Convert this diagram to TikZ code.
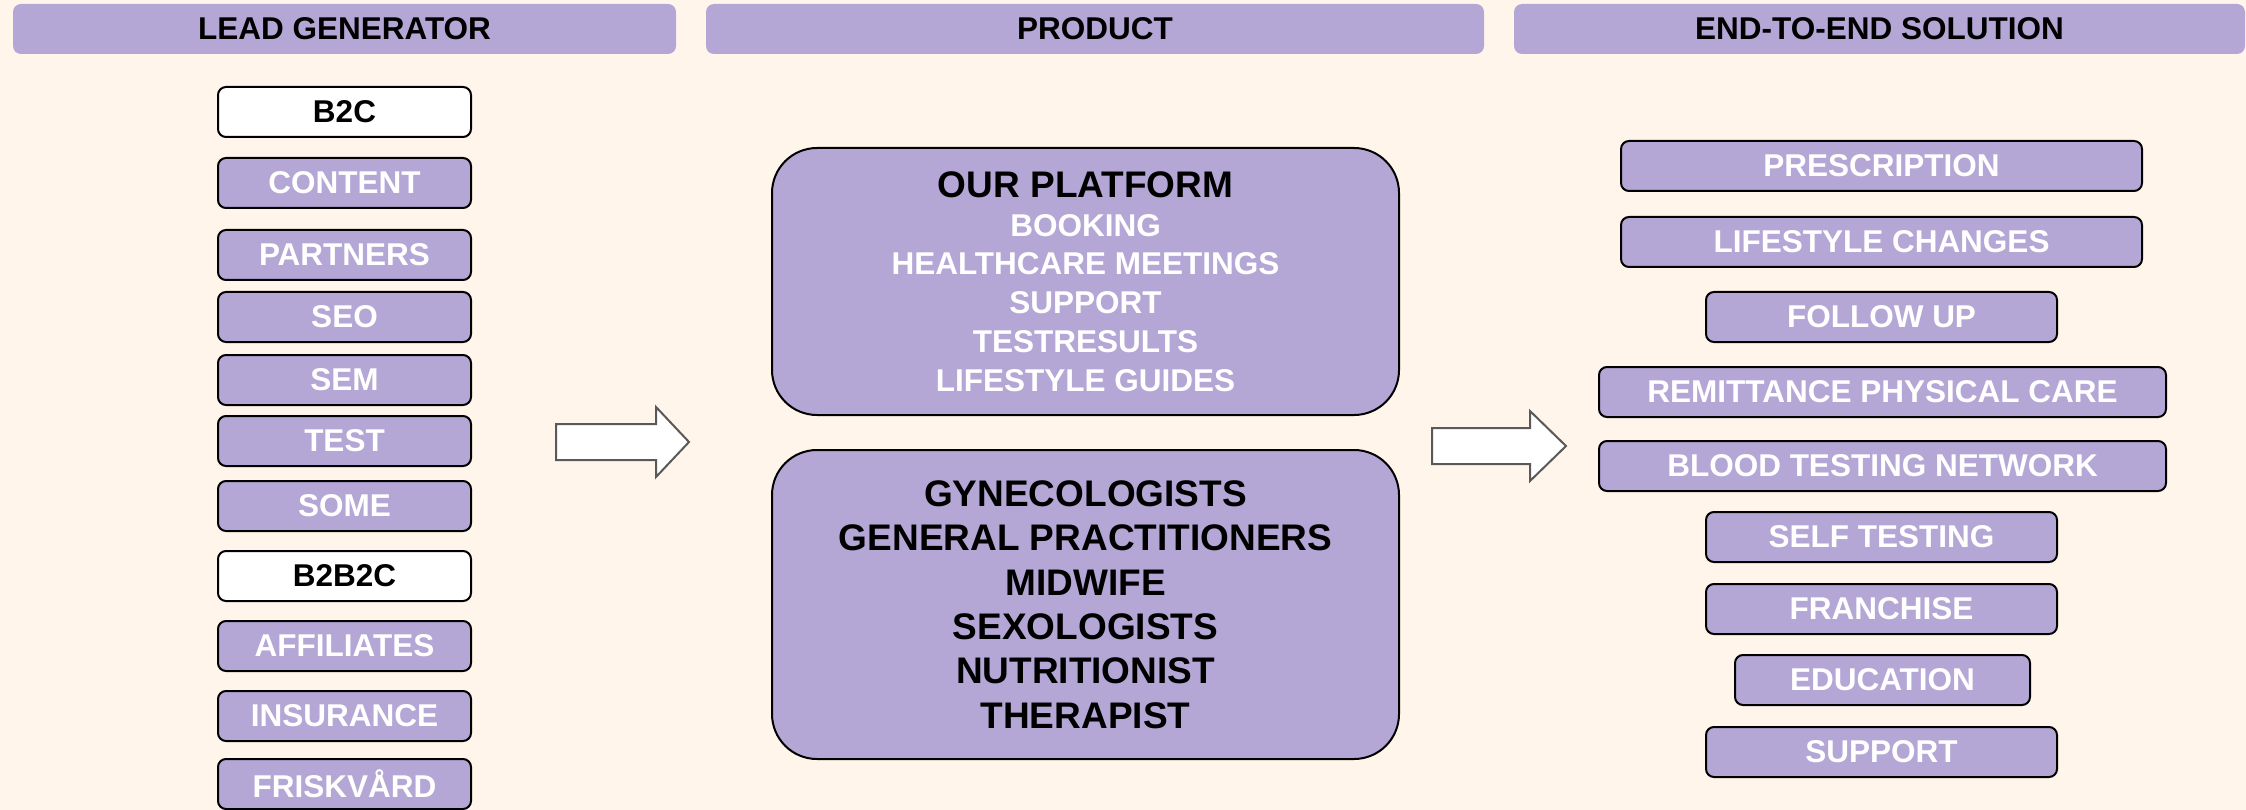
\documentclass[tikz,border=0pt]{standalone}
\usepackage{fontspec}
\setmainfont{Liberation Sans}
\definecolor{cream}{RGB}{255,245,235}
\definecolor{lilac}{RGB}{180,167,214}
\definecolor{arrowgray}{RGB}{89,89,89}
\begin{document}
\begin{tikzpicture}[x=1pt,y=-1pt,inner sep=0pt,outer sep=0pt,
header/.style={fill=lilac,rounded corners=8pt,minimum height=50pt,font=\bfseries\fontsize{31.5}{38}\selectfont},
item/.style={draw,line width=2pt,fill=lilac,rounded corners=8pt,minimum height=50pt,text=white,font=\bfseries\fontsize{31.5}{38}\selectfont},
lead/.style={item,minimum width=253pt},
segment/.style={lead,fill=white,text=black},
bigbox/.style={draw,line width=2pt,fill=lilac,rounded corners=45pt,minimum width=627pt,align=center},
bigarrow/.style={draw=arrowgray,line width=2pt,fill=white,line join=miter}]
\useasboundingbox (0,0) rectangle (2246,810);
\fill[cream] (0,0) rectangle (2246,810);
% column headers
\draw (344.5,29) node[header,minimum width=663pt] (hlead) {LEAD GENERATOR};
\draw (1095,29) node[header,minimum width=778pt] (hproduct) {PRODUCT};
\draw (1879.5,29) node[header,minimum width=731pt] (hsolution) {END-TO-END SOLUTION};
% lead generator
\draw (344.5,112) node[segment] (b2c) {B2C};
\draw (344.5,183) node[lead] (content) {CONTENT};
\draw (344.5,255) node[lead] (partners) {PARTNERS};
\draw (344.5,317) node[lead] (seo) {SEO};
\draw (344.5,380) node[lead] (sem) {SEM};
\draw (344.5,441) node[lead] (test) {TEST};
\draw (344.5,506) node[lead] (some) {SOME};
\draw (344.5,576) node[segment] (b2b2c) {B2B2C};
\draw (344.5,646) node[lead] (affiliates) {AFFILIATES};
\draw (344.5,716) node[lead] (insurance) {INSURANCE};
\draw (344.5,784) node[lead] (friskvard) {FRISKVÅRD};
% product
\draw (1085.5,281.5) node[bigbox,minimum height=267pt,text=white,
  font=\bfseries\fontsize{31.5}{38.7}\selectfont] (platform)
  {{\color{black}\fontsize{37}{40}\selectfont OUR PLATFORM}\\BOOKING\\HEALTHCARE MEETINGS\\SUPPORT\\TESTRESULTS\\LIFESTYLE GUIDES};
\draw (1085.5,604.5) node[bigbox,minimum height=309pt,
  font=\bfseries\fontsize{37}{44.4}\selectfont] (staff)
  {GYNECOLOGISTS\\GENERAL PRACTITIONERS\\MIDWIFE\\SEXOLOGISTS\\NUTRITIONIST\\THERAPIST};
% end-to-end solution
\draw (1881.5,166) node[item,minimum width=521pt] (prescription) {PRESCRIPTION};
\draw (1881.5,242) node[item,minimum width=521pt] (lifestyle) {LIFESTYLE CHANGES};
\draw (1881.5,317) node[item,minimum width=351pt] (followup) {FOLLOW UP};
\draw (1882.5,392) node[item,minimum width=567pt] (remittance) {REMITTANCE PHYSICAL CARE};
\draw (1882.5,466) node[item,minimum width=567pt] (blood) {BLOOD TESTING NETWORK};
\draw (1881.5,537) node[item,minimum width=351pt] (selftest) {SELF TESTING};
\draw (1881.5,609) node[item,minimum width=351pt] (franchise) {FRANCHISE};
\draw (1882.5,680) node[item,minimum width=295pt] (education) {EDUCATION};
\draw (1881.5,752) node[item,minimum width=351pt] (support) {SUPPORT};
% block arrows
\draw[bigarrow] (556,424) -- ++(100,0) -- ++(0,-17) -- ++(33,35) -- ++(-33,35) -- ++(0,-17) -- ++(-100,0) -- cycle;
\draw[bigarrow] (1432,428) -- ++(98,0) -- ++(0,-17) -- ++(36,35) -- ++(-36,35) -- ++(0,-17) -- ++(-98,0) -- cycle;
\end{tikzpicture}
\end{document}
